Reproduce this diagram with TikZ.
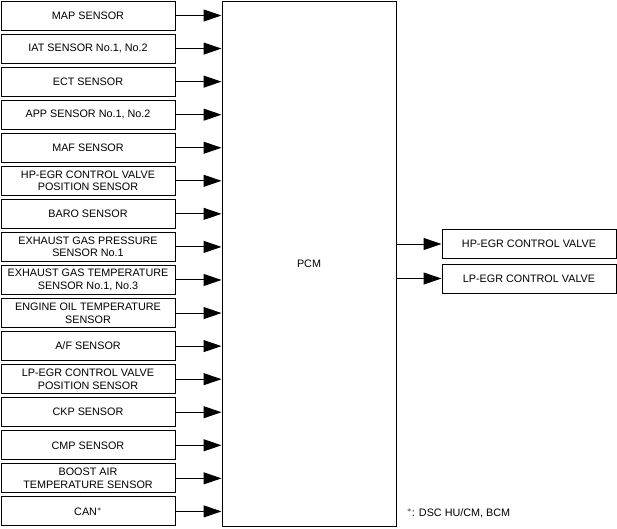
\documentclass[tikz,border=0pt]{standalone}
\usepackage{fontspec}
\setmainfont{Liberation Sans}
\usetikzlibrary{arrows.meta}
\begin{document}
\begin{tikzpicture}[x=1pt,y=-1pt,
  box/.style={draw,line width=1pt,minimum width=174pt,minimum height=29pt,inner sep=0pt,align=center,font=\fontsize{10.8}{12.5}\selectfont},
  arr/.style={line width=1pt,-{Triangle[length=18pt,width=12pt]}},
  lbl/.style={font=\fontsize{10.8}{12.5}\selectfont}]
\useasboundingbox (0,0) rectangle (617,528);
\node[draw,line width=1pt,minimum width=174pt,minimum height=525pt,inner sep=0pt,lbl] (pcm) at (309,263.5) {PCM};
\foreach \t [count=\i from 0] in {
  {MAP SENSOR},
  {IAT SENSOR No.1, No.2},
  {ECT SENSOR},
  {APP SENSOR No.1, No.2},
  {MAF SENSOR},
  {HP-EGR CONTROL VALVE\\POSITION SENSOR},
  {BARO SENSOR},
  {EXHAUST GAS PRESSURE\\SENSOR No.1},
  {EXHAUST GAS TEMPERATURE\\SENSOR No.1, No.3},
  {ENGINE OIL TEMPERATURE\\SENSOR},
  {A/F SENSOR},
  {LP-EGR CONTROL VALVE\\POSITION SENSOR},
  {CKP SENSOR},
  {CMP SENSOR},
  {BOOST AIR\\TEMPERATURE SENSOR},
  {CAN$^{*}$}} {
  \node[box] (s\i) at (88,{15.5+33.06*\i}) {\t};
  \draw[arr] (s\i.east) -- (s\i.east -| pcm.west);
}
\node[box] (hp) at (529,244) {HP-EGR CONTROL VALVE};
\node[box] (lp) at (529,278.5) {LP-EGR CONTROL VALVE};
\draw[arr] (hp.west -| pcm.east) -- (hp.west);
\draw[arr] (lp.west -| pcm.east) -- (lp.west);
\node[lbl,anchor=west,inner sep=0pt] (fn) at (407,513) {$^{*}$: DSC HU/CM, BCM};
\end{tikzpicture}
\end{document}
